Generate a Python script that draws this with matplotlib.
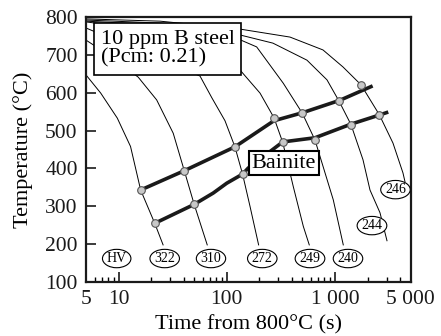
import matplotlib
matplotlib.use('Agg')
import matplotlib.pyplot as plt
from matplotlib.ticker import FixedLocator, NullFormatter

plt.rcParams['font.family'] = ['Liberation Serif', 'DejaVu Serif']

# cooling curves (time s, temperature C)
c322_t = [5.1, 6.84, 9.73, 12.9, 16.0, 21.6, 25.8]
c322_T = [644, 599, 533, 458, 343, 255, 198]
c310_t = [5, 8.7, 15.2, 22.5, 32, 40.5, 50, 66]
c310_T = [739, 694, 641, 581, 493, 394, 305, 198]
c272_t = [5, 56.6, 73.0, 96.3, 119, 140, 164, 197]
c272_T = [771, 644, 586, 526, 457, 385, 300, 198]
c249_t = [5, 19.5, 86.6, 132.6, 203, 273, 329, 412, 510, 579]
c249_T = [787, 766, 713, 660, 599, 534, 469, 352, 247, 198]
c240_t = [5, 24.2, 135, 189, 333, 499, 654, 965, 1194]
c240_T = [789, 779, 739, 721, 625, 546, 475, 317, 198]
c244_t = [5, 24.2, 135, 267, 551, 844, 1090, 1406, 1816, 2108, 2608, 3027]
c244_T = [792, 784, 752, 731, 686, 634, 578, 516, 423, 343, 283, 209]
c246_t = [5, 24.2, 133, 384, 775, 1187, 1740, 2570, 3438, 4254, 4439]
c246_T = [795, 789, 768, 747, 713, 668, 621, 542, 467, 388, 365]

curves = [(c322_t, c322_T), (c310_t, c310_T), (c272_t, c272_T), (c249_t, c249_T),
          (c240_t, c240_T), (c244_t, c244_T), (c246_t, c246_T)]

# transformation lines and their points
upper_t = [16.0, 40.5, 119, 273, 499, 1110, 2230]
upper_T = [343, 394, 457, 526, 547, 580, 618]
upper_pt_t = [16.0, 40.5, 119, 273, 499, 1090, 1740]
upper_pt_T = [343, 394, 457, 534, 546, 578, 621]

lower_t = [21.6, 50, 75, 100, 140, 158, 329, 654, 1406, 2570, 3110]
lower_T = [255, 305, 335, 361, 385, 401, 470, 481, 517, 541, 549]
lower_pt_t = [21.6, 50, 140, 329, 654, 1406, 2570]
lower_pt_T = [255, 305, 385, 470, 475, 516, 542]

# hardness labels
hv_text = ['HV', '322', '310', '272', '249', '240', '244', '246']
hv_t = [9.61, 26.7, 71.5, 213, 588, 1320, 2199, 3626]
hv_T = [162, 162, 162, 162, 162, 162, 249, 344]

fig = plt.figure(figsize=(4.41, 3.36), dpi=100)
ax = fig.add_axes([0.195, 0.1607, 0.736, 0.7887])

for t, T in curves:
    ax.plot(t, T, color='black', lw=0.7, zorder=1)

ax.plot(upper_t, upper_T, color='#1a1a1a', lw=2.6, zorder=2, solid_capstyle='butt')
ax.plot(lower_t, lower_T, color='#1a1a1a', lw=2.6, zorder=2, solid_capstyle='butt')
ax.plot(upper_pt_t, upper_pt_T, 'o', ms=5.5, mfc='#c8c8c8', mec='#555555', mew=0.8, zorder=3)
ax.plot(lower_pt_t, lower_pt_T, 'o', ms=5.5, mfc='#c8c8c8', mec='#555555', mew=0.8, zorder=3)

for s, t, T in zip(hv_text, hv_t, hv_T):
    ax.text(t, T, s, ha='center', va='center', fontsize=10, zorder=4,
            bbox=dict(boxstyle='ellipse,pad=0.0', fc='white', ec='black', lw=0.8))

ax.text(336, 414, 'Bainite', ha='center', va='center', fontsize=16, zorder=5,
        bbox=dict(boxstyle='square,pad=0.12', fc='white', ec='black', lw=1.5))
ax.text(0.045, 0.952, '10 ppm B steel\n(Pcm: 0.21)', transform=ax.transAxes,
        ha='left', va='top', fontsize=16, linespacing=1.0, zorder=5,
        bbox=dict(boxstyle='square,pad=0.3', fc='white', ec='black', lw=1.2))

ax.set_xscale('log')
ax.set_xlim(5, 5000)
ax.set_ylim(100, 800)
ax.xaxis.set_major_locator(FixedLocator([5, 10, 100, 1000, 5000]))
ax.set_xticklabels(['5', '10', '100', '1 000', '5 000'])
ax.xaxis.set_minor_locator(FixedLocator([6, 7, 8, 9, 20, 30, 40, 50, 60, 70, 80, 90,
                                          200, 300, 400, 500, 600, 700, 800, 900,
                                          2000, 3000, 4000]))
ax.xaxis.set_minor_formatter(NullFormatter())
ax.set_yticks([100, 200, 300, 400, 500, 600, 700, 800])

ax.tick_params(axis='both', which='major', direction='in', length=7, width=1.2,
               labelsize=15.5, pad=6, colors='#1a1a1a')
ax.tick_params(axis='x', which='minor', direction='in', length=3.5, width=1.0)
for sp in ax.spines.values():
    sp.set_linewidth(1.6)
    sp.set_color('#1a1a1a')

ax.set_xlabel('Time from 800°C (s)', fontsize=16, labelpad=4)
ax.set_ylabel('Temperature (°C)', fontsize=16, labelpad=9)

fig.savefig('out.png', dpi=100)
